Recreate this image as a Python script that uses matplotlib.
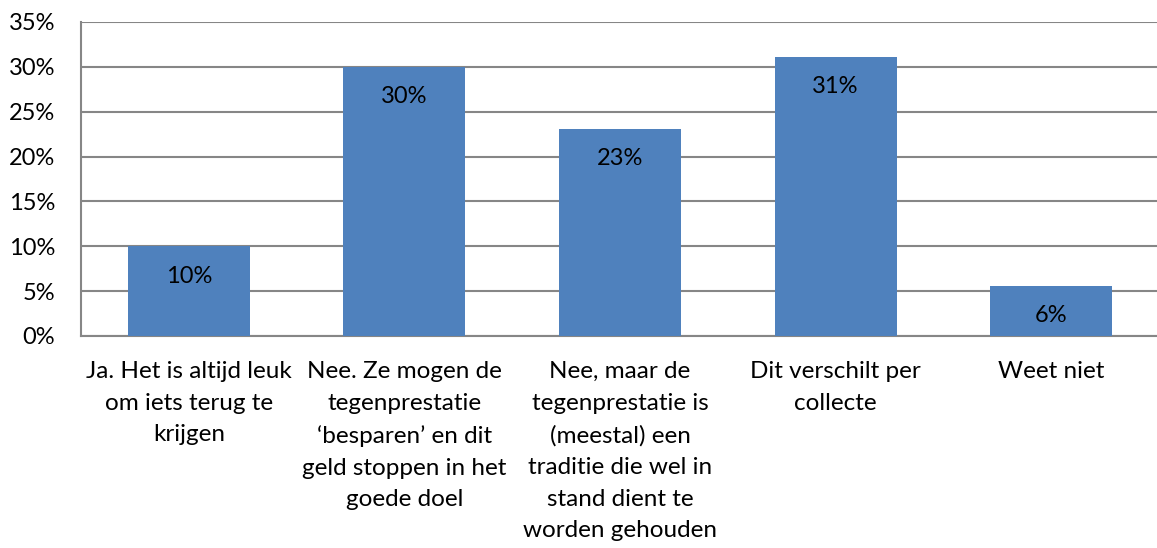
import matplotlib
matplotlib.use("Agg")
import matplotlib.pyplot as plt
from matplotlib.ticker import FuncFormatter

categories = [
    "Ja. Het is altijd leuk\nom iets terug te\nkrijgen",
    "Nee. Ze mogen de\ntegenprestatie\n\u2018besparen\u2019 en dit\ngeld stoppen in het\ngoede doel",
    "Nee, maar de\ntegenprestatie is\n(meestal) een\ntraditie die wel in\nstand dient te\nworden gehouden",
    "Dit verschilt per\ncollecte",
    "Weet niet",
]
values = [10.0, 30.0, 23.1, 31.1, 5.6]
yticks = [0, 5, 10, 15, 20, 25, 30, 35]

plt.rcParams['font.family'] = ['Lato', 'DejaVu Sans']

W, H = 1157, 548
fig = plt.figure(figsize=(W / 100, H / 100), dpi=100)
ax = fig.add_axes([81 / W, 1 - 336 / H, (1159 - 81) / W, (336 - 22) / H])

x = list(range(len(categories)))
bars = ax.bar(x, values, width=0.566, color="#4F81BD", zorder=3)
for b, v in zip(bars, values):
    ax.annotate(f"{round(v):d}%", (b.get_x() + b.get_width() / 2, v),
                xytext=(0, -21.5), textcoords="offset points",
                ha="center", va="center", fontsize=17, color="black", zorder=4)

ax.set_xlim(-0.5, len(categories) - 0.5)
ax.set_ylim(0, 35)
ax.set_yticks(yticks)
ax.yaxis.set_major_formatter(FuncFormatter(lambda v, p: f"{v:.0f}%"))
ax.set_xticks(x)
ax.set_xticklabels(categories, fontsize=17.5, linespacing=1.63, va="top")
ax.tick_params(axis="x", length=0, pad=18)
ax.tick_params(axis="y", length=0, pad=18.5, labelsize=17)
for lbl in ax.get_yticklabels():
    lbl.set_horizontalalignment("right")

ax.grid(axis="y", color="#868686", linewidth=1.5, zorder=0)
ax.grid(axis="x", visible=False)
for s in ["top", "right"]:
    ax.spines[s].set_visible(False)
for s in ["left", "bottom"]:
    ax.spines[s].set_color("#868686")
    ax.spines[s].set_linewidth(1.5)

fig.savefig("out.png", dpi=100)
